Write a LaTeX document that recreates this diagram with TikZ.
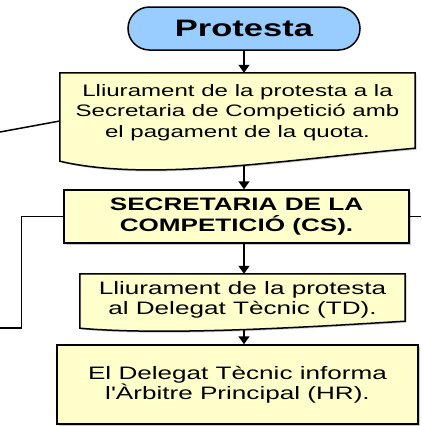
\documentclass[tikz,border=0pt]{standalone}
\usepackage{fontspec}
\newfontfamily\flowfont[FakeStretch=1.45]{Liberation Sans}
\usetikzlibrary{arrows.meta, backgrounds, shadows}
\definecolor{terminalblue}{RGB}{153, 204, 255}
\definecolor{boxyellow}{RGB}{255, 255, 204}
\definecolor{linedark}{RGB}{0, 0, 0}
\definecolor{shadowgray}{RGB}{150, 150, 150}

\begin{document}
\begin{tikzpicture}[
    x=1pt, y=-1pt,
    terminal/.style={rectangle, draw=linedark, fill=terminalblue, rounded corners=21.5pt, minimum width=232pt, minimum height=43pt, line width=1.5pt, font=\flowfont\bfseries\fontsize{23.8}{28}\selectfont},
    card/.style={rectangle, draw=linedark, fill=boxyellow, line width=1.5pt, align=center, font=\flowfont\fontsize{18}{20.5}\selectfont, drop shadow={shadow xshift=1.5pt, shadow yshift=-1.5pt, fill=shadowgray}},
    docnode/.style={rectangle, align=center, inner sep=0pt, font=\flowfont\fontsize{18}{20.5}\selectfont},
    docshape/.style={draw=linedark, fill=boxyellow, line width=1.5pt, drop shadow={shadow xshift=1.5pt, shadow yshift=-1.5pt, fill=shadowgray}},
    link/.style={line width=1.5pt, color=linedark},
    arrow/.style={link, -{Triangle[length=8pt, width=11pt]}}
]
\useasboundingbox (0,0) rectangle (421,426);

% Start
\node[terminal] (protesta) at (244, 28.5) {Protesta};

% Documents and steps
\node[docnode, minimum width=355pt, minimum height=79pt, font=\flowfont\fontsize{16.6}{20.5}\selectfont] (lodge) at (237.5, 112.5) {Lliurament de la protesta a la\\Secretaria de Competició amb\\el pagament de la quota.};
\node[card, minimum width=345pt, minimum height=53pt, font=\flowfont\bfseries\fontsize{18}{21}\selectfont] (secretaria) at (236.5, 216.5) {SECRETARIA DE LA\\COMPETICIÓ (CS).};
\node[docnode, minimum width=325pt, minimum height=52pt] (handover) at (242.5, 300) {Lliurament de la protesta\\al Delegat Tècnic (TD).};
\node[card, minimum width=361pt, minimum height=79pt] (informs) at (237.5, 384.5) {El Delegat Tècnic informa\\l'Àrbitre Principal (HR).};

% Wavy document outlines
\begin{scope}[on background layer]
\draw[docshape] (lodge.north west) -- (lodge.north east) -- ([yshift=4pt]lodge.south east)
    .. controls ([xshift=-135pt, yshift=-8pt]lodge.south east) and ([xshift=90pt, yshift=-30pt]lodge.south west) .. ([yshift=-9pt]lodge.south west) -- cycle;
\draw[docshape] (handover.north west) -- (handover.north east) -- ([yshift=5pt]handover.south east)
    .. controls ([xshift=-85pt]handover.south east) and ([xshift=90pt, yshift=-10pt]handover.south west) .. ([yshift=-2pt]handover.south west) -- cycle;
\end{scope}

% Main flow
\draw[arrow] (protesta.south) -- (protesta.south |- lodge.north);
\draw[arrow] ([yshift=-13pt]lodge.south -| protesta.south) -- (protesta.south |- secretaria.north);
\draw[arrow] (secretaria.south -| protesta.south) -- (protesta.south |- handover.north);
\draw[arrow] ([yshift=-4pt]handover.south -| protesta.south) -- (protesta.south |- informs.north);

% Side links
\coordinate (lodgeout) at (0, 132);
\coordinate (leftout) at (0, 328);
\coordinate (rightout) at (421, 216.5);
\draw[link] ([yshift=-8.5pt]lodge.west) -- (lodgeout);
\draw[link] (secretaria.west) -- ++(-42, 0) |- (leftout);
\draw[link] (secretaria.east) -- (rightout);

\end{tikzpicture}
\end{document}
